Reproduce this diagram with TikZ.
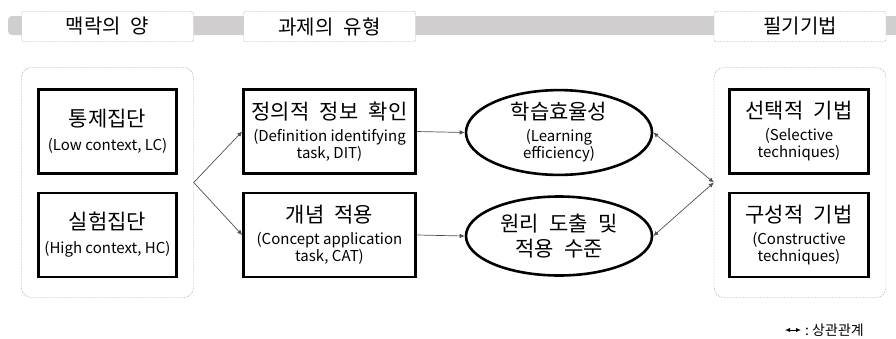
\documentclass[tikz,border=0pt]{standalone}
\usepackage{fontspec}
\setmainfont{Noto Sans CJK KR}
\newfontfamily\korfont{Noto Sans CJK KR}[WordSpace=2.2]
\usetikzlibrary{arrows.meta,shapes.geometric,positioning}
\definecolor{bandgray}{RGB}{208,206,206}
\definecolor{dashgray}{RGB}{165,165,165}
\definecolor{linegray}{RGB}{80,80,80}
\newcommand{\kor}{\korfont\fontsize{21}{24}\selectfont}
\newcommand{\eng}{\fontsize{15}{17}\selectfont}
\tikzset{>={Latex[length=5pt,width=4.5pt]},
  hdr/.style={draw=dashgray,dash pattern=on 2pt off 1pt,fill=white,rounded corners=2pt,
    minimum width=172pt,minimum height=30pt,inner sep=0pt,font=\korfont\fontsize{20}{22}\selectfont},
  grp/.style={draw=dashgray,dash pattern=on 2pt off 1pt,rounded corners=10pt,
    minimum width=172pt,minimum height=230pt},
  sbox/.style={draw,line width=2.6pt,align=center,inner sep=0pt,minimum height=84pt,font=\eng},
  oval/.style={ellipse,draw,line width=2.6pt,align=center,inner sep=0pt,
    minimum width=186pt,minimum height=79pt,font=\eng},
  link/.style={->,draw=linegray,line width=0.7pt},
  corr/.style={<->,draw=linegray,line width=0.7pt}
}
\begin{document}
\begin{tikzpicture}[x=1pt,y=-1pt]
    \useasboundingbox (0,0) rectangle (896,338);
    % band behind the headers
    \fill[bandgray,rounded corners=4pt] (8,16) rectangle (910,35);
    \node[hdr] (h1) at (107.5,26.5) {맥락의 양};
    \node[hdr] (h2) at (329.5,26.5) {과제의 유형};
    \node[hdr] (h3) at (800,26.5) {필기기법};

    % groups
    \node[grp] (lgrp) at (107.5,182.5) {};
    \node[grp] (rgrp) at (800,182.5) {};

    \node[sbox,minimum width=138pt] (lc) at (107.5,131.5) {{\kor 통제집단}\\[7pt](Low context, LC)};
    \node[sbox,minimum width=138pt] (hc) at (107.5,235) {{\kor 실험집단}\\[7pt](High context, HC)};

    \node[sbox,minimum width=172pt] (dit) at (329.5,131.5) {{\kor 정의적 정보 확인}\\[5pt](Definition identifying\\task, DIT)};
    \node[sbox,minimum width=172pt] (cat) at (329.5,235) {{\kor 개념 적용}\\[5pt](Concept application\\task, CAT)};

    \node[oval] (eff) at (559,132.5) {{\kor 학습효율성}\\[5pt](Learning\\efficiency)};
    \node[oval] (app) at (559,236) {{\kor 원리 도출 및}\\[5pt]{\kor 적용 수준}};

    \node[sbox,minimum width=139pt] (sel) at (799,131.5) {{\kor 선택적 기법}\\[5pt](Selective\\techniques)};
    \node[sbox,minimum width=139pt] (con) at (799,235) {{\kor 구성적 기법}\\[5pt](Constructive\\techniques)};

    \draw[link] (lgrp.east) -- (dit.west);
    \draw[link] (lgrp.east) -- (cat.west);
    \draw[link] (dit.east) -- (eff.west);
    \draw[link] (cat.east) -- (app.west);
    \draw[corr] (eff.east) -- (rgrp.west);
    \draw[corr] (app.east) -- (rgrp.west);

    % legend
    \coordinate (la) at (785,330);
    \coordinate (lb) at (801,330);
    \draw[corr,draw=black,line width=1pt] (la) -- (lb);
    \node[right=4pt of lb,inner sep=0pt,font=\fontsize{14}{16}\selectfont] (lg) {:\ 상관관계};
\end{tikzpicture}
\end{document}
